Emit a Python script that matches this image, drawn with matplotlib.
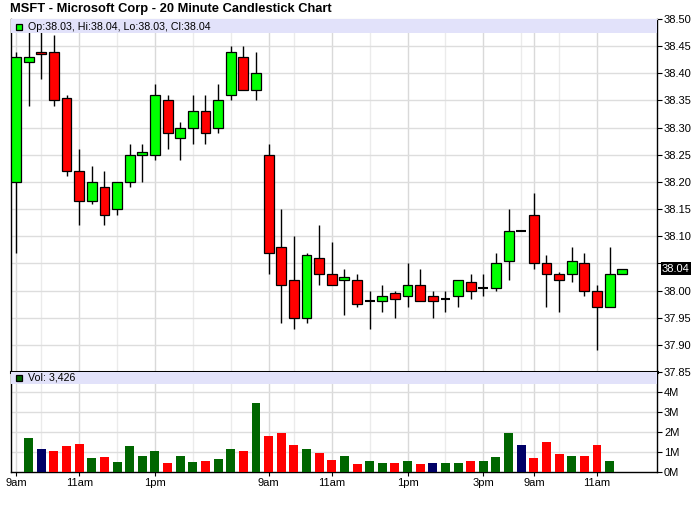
import numpy as np
import matplotlib
matplotlib.use('Agg')
import matplotlib.pyplot as plt
from matplotlib.patches import Rectangle
from matplotlib.ticker import FuncFormatter
from matplotlib.transforms import blended_transform_factory

plt.rcParams['font.family'] = ['Liberation Sans', 'DejaVu Sans']

# OHLC por barra de 20 minutos (tres sesiones)
opens = [38.20, 38.42, 38.44, 38.44, 38.355, 38.22, 38.165, 38.19, 38.15, 38.20,
         38.25, 38.25, 38.35, 38.28, 38.30, 38.33, 38.30, 38.36, 38.43, 38.37,
         38.25, 38.08, 38.02, 37.95, 38.06, 38.03, 38.02, 38.02, 37.98, 37.98,
         37.995, 37.99, 38.01, 37.99, 37.985, 37.99, 38.015, 38.005, 38.005, 38.055,
         38.11, 38.14, 38.05, 38.03, 38.03, 38.05, 38.00, 37.97, 38.03]
highs = [38.44, 38.48, 38.48, 38.47, 38.36, 38.26, 38.23, 38.22, 38.20, 38.27,
         38.27, 38.38, 38.36, 38.31, 38.36, 38.36, 38.38, 38.45, 38.45, 38.44,
         38.27, 38.15, 38.10, 38.07, 38.12, 38.09, 38.04, 38.03, 38.00, 38.01,
         38.00, 38.05, 38.04, 38.00, 38.00, 38.02, 38.03, 38.03, 38.07, 38.15,
         38.11, 38.18, 38.065, 38.035, 38.08, 38.07, 38.01, 38.08, 38.04]
lows = [38.07, 38.34, 38.39, 38.34, 38.21, 38.12, 38.16, 38.12, 38.14, 38.19,
        38.20, 38.24, 38.26, 38.24, 38.27, 38.27, 38.29, 38.35, 38.37, 38.35,
        38.03, 37.94, 37.93, 37.94, 38.01, 38.01, 37.955, 37.97, 37.93, 37.96,
        37.95, 37.97, 37.98, 37.95, 37.96, 37.97, 37.985, 37.99, 38.00, 38.02,
        38.11, 38.04, 37.97, 37.96, 38.015, 37.99, 37.89, 37.97, 38.03]
closes = [38.43, 38.43, 38.435, 38.35, 38.22, 38.165, 38.20, 38.14, 38.20, 38.25,
          38.255, 38.36, 38.29, 38.30, 38.33, 38.29, 38.35, 38.44, 38.37, 38.40,
          38.07, 38.01, 37.95, 38.065, 38.03, 38.01, 38.025, 37.975, 37.98, 37.99,
          37.985, 38.01, 37.98, 37.98, 37.985, 38.02, 38.00, 38.005, 38.05, 38.11,
          38.11, 38.05, 38.03, 38.02, 38.055, 38.00, 37.97, 38.03, 38.04]

# volumen en millones, color: g = sube, r = baja, n = sin cambio
volumes = [0, 1.70, 1.15, 1.05, 1.30, 1.40, 0.70, 0.75, 0.50, 1.30,
           0.80, 1.05, 0.45, 0.80, 0.50, 0.55, 0.65, 1.15, 1.05, 3.45,
           1.80, 1.95, 1.35, 1.15, 0.95, 0.60, 0.80, 0.40, 0.55, 0.45,
           0.45, 0.55, 0.40, 0.45, 0.45, 0.45, 0.55, 0.55, 0.75, 1.95,
           1.35, 0.70, 1.50, 0.90, 0.80, 0.80, 1.35, 0.55, 0]
vol_dir = ['g', 'g', 'n', 'r', 'r', 'r', 'g', 'r', 'g', 'g',
           'g', 'g', 'r', 'g', 'g', 'r', 'g', 'g', 'r', 'g',
           'r', 'r', 'r', 'g', 'r', 'r', 'g', 'r', 'g', 'g',
           'r', 'g', 'r', 'n', 'g', 'g', 'r', 'g', 'g', 'g',
           'n', 'r', 'r', 'r', 'g', 'r', 'r', 'g', 'g']

tick_pos = [0, 5, 11, 20, 25, 31, 37, 41, 46]
tick_labels = ['9am', '11am', '1pm', '9am', '11am', '1pm', '3pm', '9am', '11am']
minor_grid = [2, 8, 14, 17, 22, 28, 34, 40, 43]

legend_price = 'Op:38.03, Hi:38.04, Lo:38.03, Cl:38.04'
legend_vol = 'Vol: 3,426'
last_price = 38.04

W, H = 700, 512
fig = plt.figure(figsize=(W / 100, H / 100), dpi=100)
x_left, x_right = 11, 657
ax = fig.add_axes([x_left / W, 1 - 372 / H, (x_right - x_left) / W, (372 - 19) / H])
axv = fig.add_axes([x_left / W, 1 - 472 / H, (x_right - x_left) / W, 100 / H])

xlim = (-0.40, 50.75)
vol_colors = {'g': '#006600', 'r': '#ff0000', 'n': '#000066'}

for a in (ax, axv):
    a.set_xlim(*xlim)
    for k in minor_grid:
        a.axvline(k, color='#ebebeb', lw=1.0, zorder=0)
    for k in tick_pos:
        a.axvline(k, color='#d9d9d9', lw=1.0, zorder=0)
    a.yaxis.tick_right()
    a.tick_params(axis='y', direction='out', length=3.5, width=0.8, pad=1.5,
                  labelsize=8, colors='black')
    for s in ('left', 'right', 'bottom'):
        a.spines[s].set_color('black')
        a.spines[s].set_linewidth(1.0)

# velas
ax.set_ylim(37.85, 38.50)
yt = np.round(np.arange(37.85, 38.501, 0.05), 2)
ax.set_yticks(yt)
# la etiqueta 38.05 queda tapada por el recuadro del ultimo precio
ax.set_yticklabels(['' if abs(v - 38.05) < 1e-6 else f'{v:.2f}' for v in yt])
for v in yt[1:-1]:
    ax.axhline(v, color='#dddddd', lw=1.0, zorder=0)

body_w = 0.78
for i in range(len(opens)):
    o, h, l, c = opens[i], highs[i], lows[i], closes[i]
    ax.vlines(i, l, h, color='black', lw=1.0, zorder=2)
    if abs(c - o) < 1e-9:
        ax.hlines(o, i - body_w / 2, i + body_w / 2, color='black', lw=1.5, zorder=3)
        continue
    color = '#00ff00' if c > o else '#ff0000'
    ax.add_patch(Rectangle((i - body_w / 2, min(o, c)), body_w, abs(c - o),
                           facecolor=color, edgecolor='black', lw=0.9, zorder=3))

ax.set_xticks([])
ax.spines['top'].set_color('#c8c8c8')
ax.spines['bottom'].set_linewidth(2.2)

# banda de leyenda
ax.axhspan(38.50 - 14 / 543, 38.50, color='#e2e2fa', lw=0, zorder=5)
ax.plot([7.5 / 646], [1 - 8 / 353], marker='s', ms=5, mfc='#00ff00', mec='black',
        mew=0.9, transform=ax.transAxes, zorder=6, clip_on=False)
ax.text(17 / 646, 1 - 8 / 353, legend_price, transform=ax.transAxes,
        fontsize=7.7, va='center', ha='left', zorder=6)

# ultimo precio
trans = blended_transform_factory(ax.transAxes, ax.transData)
ax.text(1 + 5 / 646, last_price, f'{last_price:.2f}', transform=trans, color='white',
        fontsize=8, va='center', ha='left', zorder=7, clip_on=False,
        bbox=dict(boxstyle='square,pad=0.12', fc='black', ec='none'))

# volumen
axv.set_ylim(0, 5e6)
axv.set_yticks([0, 1e6, 2e6, 3e6, 4e6])
axv.yaxis.set_major_formatter(FuncFormatter(lambda v, p: f'{int(round(v / 1e6))}M'))
for v in [1e6, 2e6, 3e6, 4e6]:
    axv.axhline(v, color='#dddddd', lw=1.0, zorder=0)
axv.bar(range(len(volumes)), np.array(volumes) * 1e6, width=0.71,
        color=[vol_colors[d] for d in vol_dir], lw=0, zorder=3)
axv.spines['top'].set_visible(False)

axv.axhspan(4.4e6, 5e6, color='#e2e2fa', lw=0, zorder=5)
axv.plot([7.5 / 646], [1 - 6 / 100], marker='s', ms=5, mfc='#006600', mec='black',
         mew=0.9, transform=axv.transAxes, zorder=6, clip_on=False)
axv.text(17 / 646, 1 - 6 / 100, legend_vol, transform=axv.transAxes,
         fontsize=7.7, va='center', ha='left', zorder=6)

axv.set_xticks(tick_pos)
axv.set_xticklabels(tick_labels)
axv.tick_params(axis='x', direction='out', length=3, width=0.8, pad=1.5,
                labelsize=8, colors='black')

fig.text(10 / W, 1 - 9 / H, 'MSFT - Microsoft Corp - 20 Minute Candlestick Chart',
         fontsize=9.3, fontweight='bold', va='center', ha='left')

fig.savefig('out.png', dpi=100, facecolor='white')
